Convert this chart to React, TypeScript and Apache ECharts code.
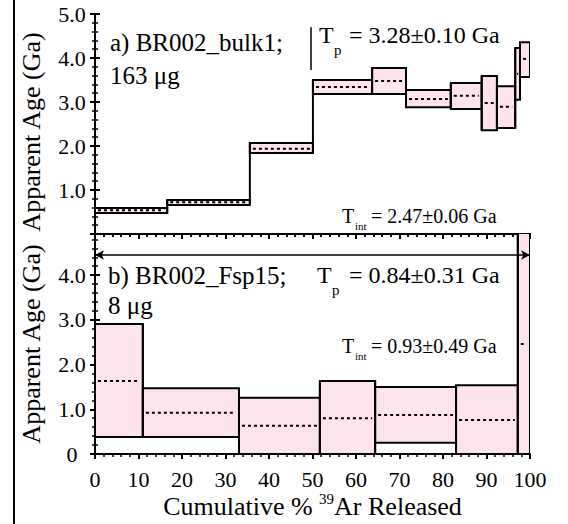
import React, { useEffect, useRef } from "react";
import * as echarts from "echarts";

// ---- Data ----
// Panel a) BR002_bulk1 : step edges in cumulative % 39Ar, age bounds (Ga)
const topEdges = [0, 16.6, 35.6, 50.1, 63.7, 71.5, 81.8, 88.9, 92.4, 96.6, 97.7, 100];
const topLow = [0.48, 0.66, 1.84, 3.18, 3.18, 2.88, 2.84, 2.36, 2.41, 3.05, 3.57];
const topHigh = [0.59, 0.77, 2.07, 3.5, 3.77, 3.27, 3.43, 3.59, 3.36, 4.23, 4.36];
const topMid = [0.54, 0.72, 1.94, 3.34, 3.48, 3.07, 3.14, 2.98, 2.89, 3.64, 3.98];

// Panel b) BR002_Fsp15
const botEdges = [0, 11.0, 33.1, 51.7, 64.4, 83.0, 97.2, 100];
const botLow = [0.38, 0.38, 0, 0, 0.25, 0, 0];
const botHigh = [2.91, 1.47, 1.26, 1.63, 1.5, 1.54, 6.0];
const botMid = [1.63, 0.92, 0.63, 0.8, 0.87, 0.76, 2.46];

// plateau markers
const topPlateauMark = [49.6, 3.73, 4.7]; // x, y from, y to
const botPlateauSpan = [0, 100, 4.45]; // x from, x to, y

const xTickLabels = ["0", "10", "20", "30", "40", "50", "60", "70", "80", "90", "100"];
const topYLabels = ["1.0", "2.0", "3.0", "4.0", "5.0"];
const botYLabels = ["0", "1.0", "2.0", "3.0", "4.0"];

const FONT = '"Liberation Serif", "Times New Roman", serif';
const PINK = "#fce3ee";
const INK = "#000";

function buildSteps(edges: number[], lo: number[], hi: number[], mid: number[]) {
  return lo.map((l, i) => {
    const pl = i > 0 ? lo[i - 1] : l;
    const ph = i > 0 ? hi[i - 1] : hi[i];
    return [edges[i], edges[i + 1], l, hi[i], mid[i], pl, ph];
  });
}

function renderStep(params: any, api: any) {
  const x0 = api.value(0);
  const x1 = api.value(1);
  const lo = api.value(2);
  const hi = api.value(3);
  const mid = api.value(4);
  const pl = api.value(5);
  const ph = api.value(6);
  const a = api.coord([x0, hi]);
  const b = api.coord([x1, lo]);
  const m0 = api.coord([x0, mid]);
  const m1 = api.coord([x1, mid]);
  const c0 = api.coord([x0, Math.min(lo, pl)]);
  const c1 = api.coord([x0, Math.max(hi, ph)]);
  return {
    type: "group",
    children: [
      {
        type: "rect",
        shape: { x: a[0], y: a[1], width: b[0] - a[0], height: b[1] - a[1] },
        style: { fill: PINK, stroke: INK, lineWidth: 2 },
      },
      {
        type: "line",
        shape: { x1: m0[0] + 3, y1: m0[1], x2: m1[0] - 3, y2: m1[1] },
        style: { stroke: INK, lineWidth: 2, lineDash: [3, 3] },
      },
      {
        type: "line",
        shape: { x1: c0[0], y1: c0[1], x2: c1[0], y2: c1[1] },
        style: { stroke: INK, lineWidth: 2 },
      },
    ],
  };
}

function txt(text: string, x: number, y: number, size: number, extra: any = {}) {
  return {
    type: "text",
    x,
    y,
    rotation: extra.rotation || 0,
    z: 10,
    style: {
      text,
      fontSize: size,
      fontFamily: FONT,
      fill: INK,
      align: extra.align || "left",
      verticalAlign: "middle",
    },
  };
}

const axisLineStyle = { show: true, lineStyle: { color: INK, width: 2 } };

function xAx(grid: number, position: string, opts: any) {
  return {
    type: "value",
    gridIndex: grid,
    position,
    min: 0,
    max: 100,
    interval: 10,
    axisLine: axisLineStyle,
    axisTick: { show: opts.ticks, inside: opts.inside, length: 5, lineStyle: { color: INK, width: 2 } },
    minorTick: { show: opts.ticks, splitNumber: 5, length: 3, lineStyle: { color: INK, width: 1.5 } },
    axisLabel: opts.labels
      ? {
          show: true,
          margin: 14,
          fontSize: 22,
          fontFamily: FONT,
          color: INK,
          formatter: (v: number) => xTickLabels[Math.round(v / 10)] ?? "",
        }
      : { show: false },
    splitLine: { show: false },
    ...(opts.name ? opts.name : {}),
  };
}

function yAx(grid: number, position: string, max: number, labels: string[] | null) {
  return {
    type: "value",
    gridIndex: grid,
    position,
    min: 0,
    max,
    interval: 1,
    axisLine: axisLineStyle,
    axisTick: { show: true, inside: false, length: 5, lineStyle: { color: INK, width: 2 } },
    minorTick: { show: true, splitNumber: 5, length: 3, lineStyle: { color: INK, width: 1.5 } },
    axisLabel: labels
      ? {
          show: true,
          align: "center",
          margin: 23,
          fontSize: 22,
          fontFamily: FONT,
          color: INK,
          formatter: (v: number) => {
            const r = Math.round(v);
            if (Math.abs(v - r) > 1e-6) return "";
            const lab = labels.find((s) => parseFloat(s) === r);
            return lab ?? "";
          },
        }
      : { show: false },
    splitLine: { show: false },
  };
}

export default function App() {
  const ref = useRef<HTMLDivElement>(null);
  useEffect(() => {
    if (!ref.current) return;
    const chart = echarts.init(ref.current, undefined, { renderer: "svg" });
    const option: any = {
      animation: false,
      backgroundColor: "#fff",
      grid: [
        { left: 95, top: 14, width: 435, height: 220 },
        { left: 95, top: 234, width: 435, height: 220 },
      ],
      xAxis: [
        xAx(0, "bottom", { ticks: true, inside: false, labels: false }),
        xAx(0, "top", { ticks: true, inside: true, labels: false }),
        xAx(1, "bottom", {
          ticks: true,
          inside: false,
          labels: true,
          name: {
            name: "{a|Cumulative % }{s|39}{a|Ar Released}",
            nameLocation: "middle",
            nameGap: 37,
            nameTextStyle: {
              rich: {
                a: { fontSize: 26, fontFamily: FONT, color: INK, lineHeight: 30 },
                s: { fontSize: 15, fontFamily: FONT, color: INK, lineHeight: 20, verticalAlign: "top" },
              },
            },
          },
        }),
        xAx(1, "top", { ticks: false, inside: true, labels: false }),
      ],
      yAxis: [
        yAx(0, "left", 5, topYLabels),
        yAx(0, "right", 5, null),
        yAx(1, "left", 4.92, botYLabels),
        yAx(1, "right", 4.92, null),
      ],
      series: [
        {
          type: "custom",
          xAxisIndex: 0,
          yAxisIndex: 0,
          clip: true,
          renderItem: renderStep,
          data: buildSteps(topEdges, topLow, topHigh, topMid),
          silent: true,
          markLine: {
            silent: true,
            symbol: ["none", "none"],
            label: { show: false },
            lineStyle: { color: INK, width: 1.5, type: "solid" },
            data: [
              [
                { coord: [topPlateauMark[0], topPlateauMark[1]] },
                { coord: [topPlateauMark[0], topPlateauMark[2]] },
              ],
            ],
          },
        },
        {
          type: "custom",
          xAxisIndex: 2,
          yAxisIndex: 2,
          clip: true,
          renderItem: renderStep,
          data: buildSteps(botEdges, botLow, botHigh, botMid),
          silent: true,
          markLine: {
            silent: true,
            symbol: ["arrow", "arrow"],
            symbolSize: [7, 9],
            label: { show: false },
            lineStyle: { color: INK, width: 1.5, type: "solid" },
            data: [
              [
                { coord: [botPlateauSpan[0], botPlateauSpan[2]] },
                { coord: [botPlateauSpan[1], botPlateauSpan[2]] },
              ],
            ],
          },
        },
      ],
      graphic: [
        { type: "line", shape: { x1: 14, y1: 0, x2: 14, y2: 524 }, style: { stroke: INK, lineWidth: 2 } },
        txt("Apparent Age (Ga)", 31, 132, 26, { rotation: Math.PI / 2, align: "center" }),
        txt("Apparent Age (Ga)", 31, 344, 26, { rotation: Math.PI / 2, align: "center" }),
        txt("a) BR002_bulk1;", 110, 42, 25),
        txt("163 μg", 110, 75, 25),
        txt("b) BR002_Fsp15;", 108, 275, 25),
        txt("8 μg", 108, 305, 25),
        txt("T", 319, 35, 24),
        txt("p", 334, 50, 15),
        txt("= 3.28±0.10 Ga", 349, 35, 24),
        txt("T", 342, 216, 20),
        txt("int", 355, 226, 11),
        txt("= 2.47±0.06 Ga", 371, 216, 20),
        txt("T", 317, 275, 24),
        txt("p", 332, 290, 15),
        txt("= 0.84±0.31 Ga", 349, 275, 24),
        txt("T", 342, 346, 20),
        txt("int", 355, 356, 11),
        txt("= 0.93±0.49 Ga", 371, 346, 20),
      ],
    };
    chart.setOption(option);
    return () => chart.dispose();
  }, []);
  return (
    <div
      ref={ref}
      style={{ position: "fixed", left: 0, top: 0, width: 568, height: 524, background: "#fff" }}
    />
  );
}
